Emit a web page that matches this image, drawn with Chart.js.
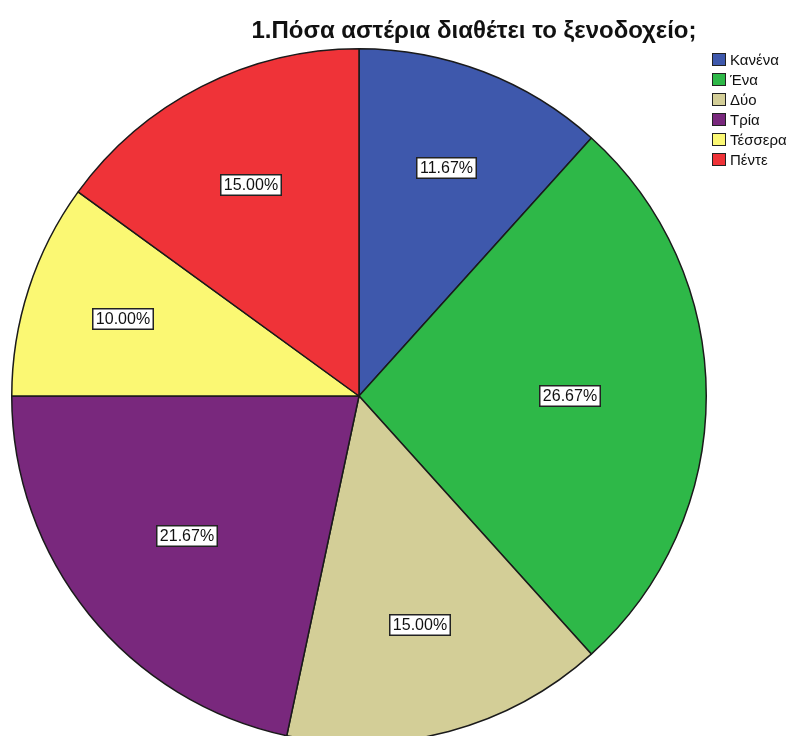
<!DOCTYPE html>
<html>
<head>
<meta charset="utf-8">
<script src="https://cdn.jsdelivr.net/npm/chart.js@4.4.0/dist/chart.umd.min.js"></script>
<style>
html,body{margin:0;padding:0;background:#fff;overflow:hidden}
#wrap{position:absolute;left:0;top:0;width:797px;height:800px}
</style>
</head>
<body>
<div id="wrap"><canvas id="pie" width="797" height="800"></canvas></div>
<script>
/* ===== DATA ===== */
const TITLE="1.Πόσα αστέρια διαθέτει το ξενοδοχείο;";
const labels=["Κανένα","Ένα","Δύο","Τρία","Τέσσερα","Πέντε"];
const percents=[11.67,26.67,15.00,21.67,10.00,15.00];
const colors=["#3E58AC","#2EB848","#D3CE97","#79287D","#FBF873","#EF3338"];

const FONT="'Liberation Sans', Arial, sans-serif";

/* ===== PLUGINS ===== */
const titlePlugin={
  id:"titleDraw",
  afterDraw(c){
    const x=c.ctx;
    x.save();
    x.font="bold 24px "+FONT;
    x.fillStyle="#111";
    x.textAlign="center";
    x.textBaseline="alphabetic";
    x.fillText(TITLE,474,38);
    x.restore();
  }
};

const legendPlugin={
  id:"legendDraw",
  afterDraw(c){
    const x=c.ctx;
    x.save();
    x.font="15px "+FONT;
    x.textBaseline="middle";
    labels.forEach((l,i)=>{
      const y=59.5+i*20;
      x.fillStyle=colors[i];
      x.fillRect(712,y-6.5,14,13);
      x.strokeStyle="#222";
      x.lineWidth=1;
      x.strokeRect(712.5,y-6,13,12);
      x.fillStyle="#111";
      x.fillText(l,730,y+1);
    });
    x.restore();
  }
};

const labelPlugin={
  id:"sliceLabels",
  afterDatasetsDraw(c){
    const x=c.ctx;
    const meta=c.getDatasetMeta(0);
    x.save();
    x.font="16px "+FONT;
    x.textAlign="center";
    x.textBaseline="middle";
    meta.data.forEach((arc,i)=>{
      const p=arc.getProps(["x","y","startAngle","endAngle","outerRadius"],true);
      const a=(p.startAngle+p.endAngle)/2;
      // smaller slices get their label pushed further out
      const r=p.outerRadius*(0.78-0.0065*percents[i]);
      const cx=p.x+Math.cos(a)*r, cy=p.y+Math.sin(a)*r;
      const t=percents[i].toFixed(2)+"%";
      const w=Math.round(x.measureText(t).width+8), h=22;
      const bx=Math.round(cx-w/2), by=Math.round(cy-h/2);
      x.fillStyle="#fff";
      x.fillRect(bx,by,w,h);
      x.strokeStyle="#222";
      x.lineWidth=1.5;
      x.strokeRect(bx+0.75,by+0.75,w-1.5,h-1.5);
      x.fillStyle="#111";
      x.fillText(t,bx+w/2,by+h/2+1);
    });
    x.restore();
  }
};

/* ===== CHART ===== */
new Chart(document.getElementById("pie"),{
  type:"pie",
  data:{labels:labels,datasets:[{
    data:percents,
    backgroundColor:colors,
    borderColor:"#1a1a1a",
    borderWidth:1.5
  }]},
  options:{
    responsive:false,
    animation:false,
    layout:{padding:{left:11,top:48,right:90,bottom:56}},
    plugins:{legend:{display:false},title:{display:false},tooltip:{enabled:false}}
  },
  plugins:[titlePlugin,legendPlugin,labelPlugin]
});
</script>
</body>
</html>
